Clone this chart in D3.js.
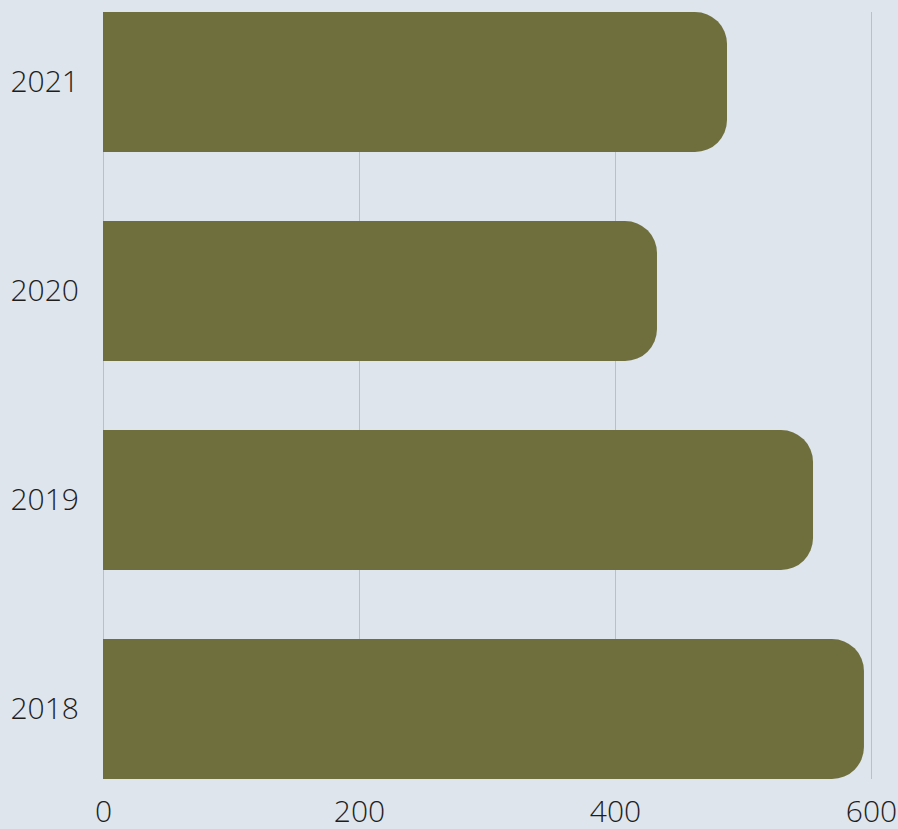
<!DOCTYPE html>
<html lang="en">
	<head>
		<meta charset="utf-8">
		<title>Bars by year</title>
		<script src="https://cdn.jsdelivr.net/npm/d3@7"></script>
		<style>
			html, body { margin: 0; padding: 0; background: #dee5ec; }
			svg { display: block; }
		</style>
	</head>
	<body>
		<script>
			//Data
			var years = ["2021", "2020", "2019", "2018"];
			var values = [487.5, 432.8, 554.7, 594.5];
			var xTicks = [0, 200, 400, 600];

			//Width and height
			var w = 898;
			var h = 829;
			var margin = {top: 12, right: 27, bottom: 50, left: 103};
			var radius = 32;

			var dataset = years.map(function(y, i) { return {year: y, value: values[i]}; });

			var xScale = d3.scaleLinear()
				.domain([0, 600])
				.range([margin.left, w - margin.right]);

			var yScale = d3.scaleBand()
				.domain(years)
				.range([margin.top, h - margin.bottom])
				.paddingInner(0.33)
				.paddingOuter(0);

			var svg = d3.select("body")
				.append("svg")
				.attr("width", w)
				.attr("height", h);

			svg.append("rect")
				.attr("width", w)
				.attr("height", h)
				.attr("fill", "#dee5ec");

			//Gridlines
			svg.selectAll("line.grid")
				.data(xTicks)
				.enter()
				.append("line")
				.attr("class", "grid")
				.attr("x1", function(d) { return Math.round(xScale(d)) + 0.5; })
				.attr("x2", function(d) { return Math.round(xScale(d)) + 0.5; })
				.attr("y1", margin.top)
				.attr("y2", h - margin.bottom)
				.attr("stroke", "#b9c0c8")
				.attr("stroke-width", 1);

			//Bars with rounded right end
			function barPath(d) {
				var x0 = xScale(0);
				var x1 = xScale(d.value);
				var y0 = yScale(d.year);
				var bh = yScale.bandwidth();
				var r = Math.min(radius, x1 - x0, bh / 2);
				return "M" + x0 + "," + y0 +
					"H" + (x1 - r) +
					"A" + r + "," + r + " 0 0 1 " + x1 + "," + (y0 + r) +
					"V" + (y0 + bh - r) +
					"A" + r + "," + r + " 0 0 1 " + (x1 - r) + "," + (y0 + bh) +
					"H" + x0 + "Z";
			}

			svg.selectAll("path.bar")
				.data(dataset)
				.enter()
				.append("path")
				.attr("class", "bar")
				.attr("d", barPath)
				.attr("fill", "#6f6f3d");

			//Axes
			svg.append("g")
				.attr("transform", "translate(" + margin.left + ",0)")
				.call(d3.axisLeft(yScale).tickSize(0).tickPadding(24));

			svg.append("g")
				.attr("transform", "translate(0," + (h - margin.bottom) + ")")
				.call(d3.axisBottom(xScale).tickValues(xTicks).tickSize(0).tickPadding(22));

			svg.selectAll(".domain").remove();
			svg.selectAll(".tick text")
				.attr("font-family", "'Open Sans', sans-serif")
				.attr("font-size", "30px")
				.attr("font-weight", 300)
				.attr("fill", "#1e1e1e");
		</script>
	</body>
</html>
